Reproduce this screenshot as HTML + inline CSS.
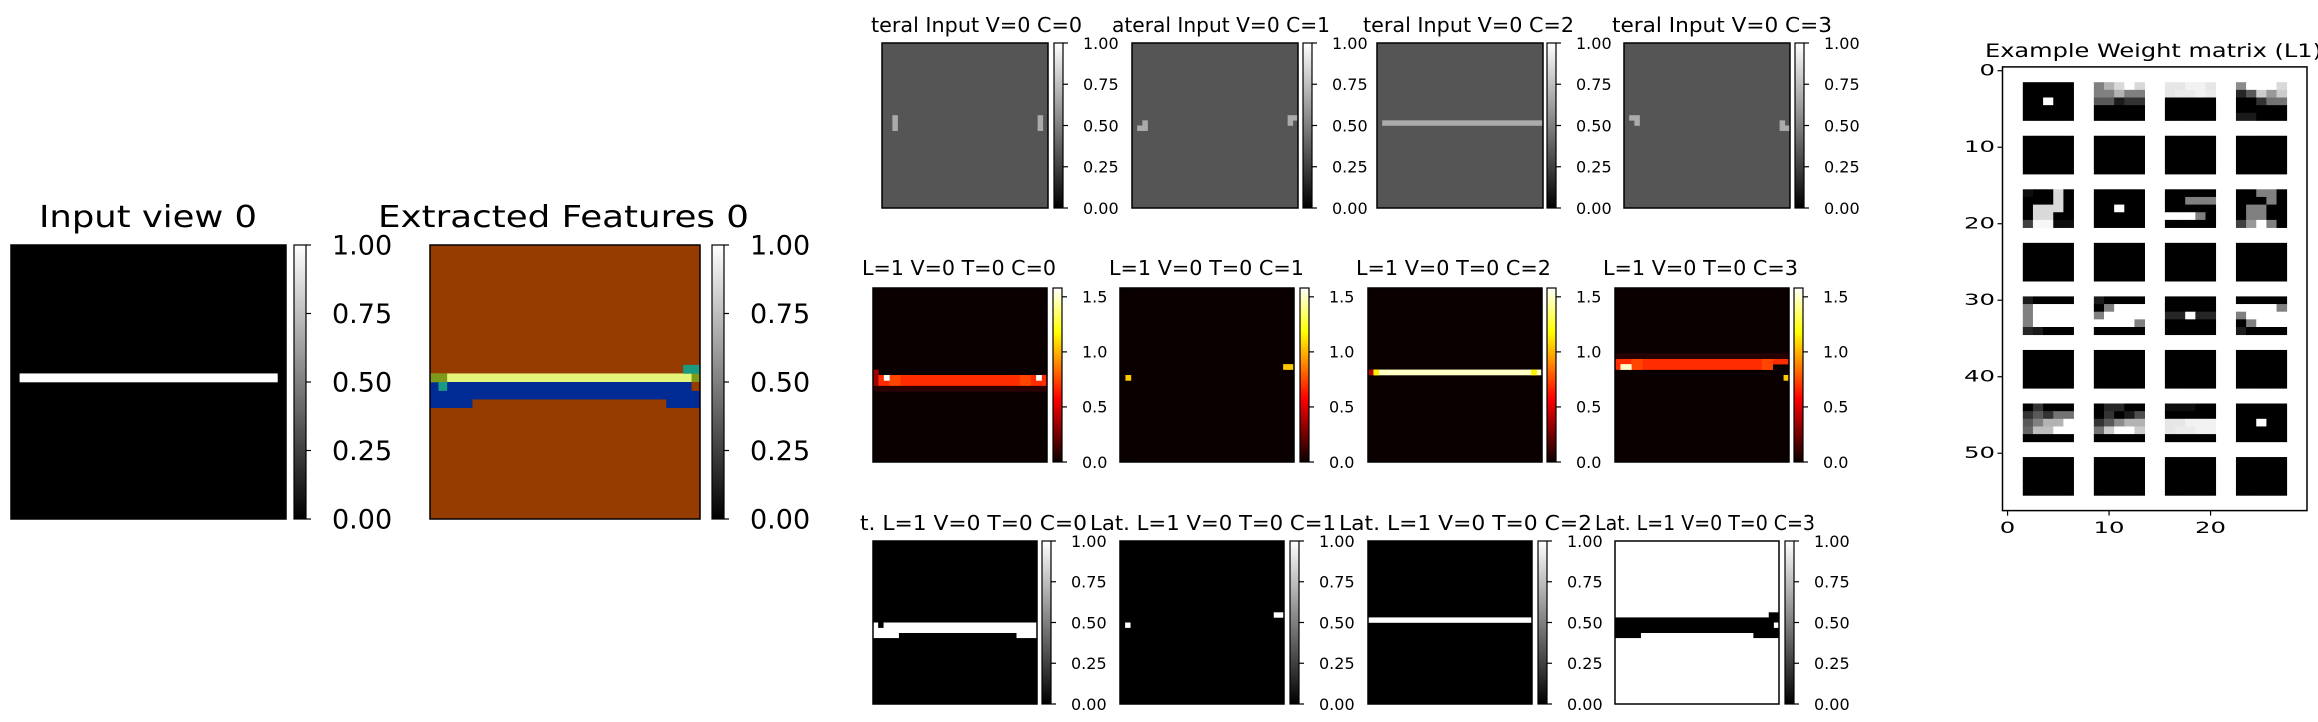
<!DOCTYPE html>
<html><head><meta charset="utf-8">
<style>
html,body{margin:0;padding:0;background:#fff;}
svg{display:block;}
text{font-family:"DejaVu Sans","Liberation Sans",sans-serif;fill:#000;}
</style></head>
<body>
<svg id="fig" width="2318" height="722" viewBox="0 0 2318 722" xmlns="http://www.w3.org/2000/svg">
<defs>
<linearGradient id="gGray" x1="0" y1="1" x2="0" y2="0"><stop offset="0" stop-color="#000"/><stop offset="1" stop-color="#fff"/></linearGradient>
<linearGradient id="gHot" x1="0" y1="1" x2="0" y2="0">
<stop offset="0" stop-color="#0a0000"/><stop offset="0.365" stop-color="#ff0000"/><stop offset="0.746" stop-color="#ffff00"/><stop offset="1" stop-color="#ffffff"/></linearGradient>
</defs>
</svg>
<script>
// ---------- data ----------
const grayTicks = [0, 0.25, 0.5, 0.75, 1.0];
const grayTickLabels = ["0.00","0.25","0.50","0.75","1.00"];
const hotTicks = [0, 0.5, 1.0, 1.5];
const hotTickLabels = ["0.0","0.5","1.0","1.5"];
const hotMax = 1.58;
// image rects: [col0,row0,col1,row1,value] on 32x32 grid (col1,row1 exclusive)
const inputView = [[1,15,31,16,1]];
const featureColors = ["#963c00","#002a94","#e4f57a","#7f9a1a","#1a9a80"];
const extractedFeatures = [[0,15,32,16,2],[0,16,32,18,1],[0,18,5,19,1],[28,18,32,19,1],[0,15,2,16,3],[31,15,32,16,3],[1,16,2,17,4],[30,14,32,15,4],[31,16,32,17,0]];
const lateralInputs = [
  [[2,14,3,17,0.67],[30,14,31,17,0.67]],
  [[1,16,3,17,0.67],[2,15,3,16,0.67],[30,14,32,15,0.67],[30,15,31,16,0.67]],
  [[1,15,32,16,0.67]],
  [[1,14,3,15,0.67],[2,15,3,16,0.67],[30,15,31,16,0.67],[30,16,32,17,0.67]]
];
const activations = [
  [[0,15,1,18,0.35],[1,16,32,18,0.68],[3,16,5,18,0.74],[27,16,29,18,0.74],[2,16,3,17,1.58],[30,16,31,17,1.58],[0,18,32,19,0.08]],
  [[1,16,2,17,1.05],[30,14,32,15,1.05]],
  [[1,15,32,16,1.49],[0,15,1,16,0.4],[1,15,2,16,1.15],[30,15,31,16,1.15]],
  [[0,13,32,14,0.68],[0,14,29,15,0.68],[3,13,5,15,0.74],[27,13,29,15,0.74],[1,14,3,15,1.5],[31,16,32,17,1.05],[0,12,32,13,0.06]]
];
const lateralOut = [
  {bg:0, rects:[[0,16,32,18,1],[0,18,5,19,1],[28,18,32,19,1],[1,16,2,17,0]]},
  {bg:0, rects:[[1,16,2,17,1],[30,14,32,15,1]]},
  {bg:0, rects:[[0,15,32,16,1]]},
  {bg:1, rects:[[0,15,32,18,0],[0,18,5,19,0],[27,18,32,19,0],[30,14,32,15,0],[31,16,32,17,1]]}
];
const topTitles = ["teral Input V=0 C=0","ateral Input V=0 C=1","teral Input V=0 C=2","teral Input V=0 C=3"];
const midTitles = ["L=1 V=0 T=0 C=0","L=1 V=0 T=0 C=1","L=1 V=0 T=0 C=2","L=1 V=0 T=0 C=3"];
const botTitles = ["t. L=1 V=0 T=0 C=0","Lat. L=1 V=0 T=0 C=1","Lat. L=1 V=0 T=0 C=2","Lat. L=1 V=0 T=0 C=3"];
// weight matrix blocks (8 block rows x 4 block cols), 5x5 gray values each
const Z = [[0,0,0,0,0],[0,0,0,0,0],[0,0,0,0,0],[0,0,0,0,0],[0,0,0,0,0]];
const C = [[0,0,0,0,0],[0,0,0,0,0],[0,0,1,0,0],[0,0,0,0,0],[0,0,0,0,0]];
const weightBlocks = [
 [C,
  [[0.5,0.7,0.85,1,0.85],[0.5,0.5,0.7,0.5,0.5],[0.35,0.35,0.1,0.2,0.2],[0,0,0,0,0],[0,0,0,0,0]],
  [[0.9,0.9,0.95,0.95,0.9],[0.9,0.92,0.92,0.95,0.92],[0,0,0,0,0],[0,0,0,0,0],[0,0,0,0,0]],
  [[0.55,1,1,1,0.85],[0.15,0.35,0.8,0.6,0.8],[0,0,0.2,0.45,0.45],[0,0,0,0,0],[0.1,0.1,0,0,0]]],
 [Z,Z,Z,Z],
 [[[0.05,0,0,0.85,0],[0,0,0,0.85,0],[0,0.85,0.85,0.85,0],[0,0.85,0.85,0,0],[0.25,0.97,0.97,0.05,0.05]],
  C,
  [[0,0,0,0,0],[0,0,0.5,0.5,0.5],[0,0,0,0,0],[1,1,1,0.5,0],[0,0,0,0,0]],
  [[0,0,0.5,0.5,0],[0,0,0,0.5,0],[0,0.5,0.5,0,0],[0,0.5,0.5,0,0],[0.25,0.6,1,0.5,0]]],
 [Z,Z,Z,Z],
 [[[0.1,0,0,0,0],[0.5,1,1,1,1],[0.5,1,1,1,1],[0.5,1,1,1,1],[0.15,0.1,0,0,0]],
  [[0.1,0,0,0,0],[0,0.5,1,1,1],[0.5,1,1,1,1],[1,1,1,1,0.5],[0,0,0,0,0]],
  [[0,0,0,0,0],[0,0,0,0,0],[0.15,0.15,1,0.15,0.15],[0,0,0,0,0],[0,0,0,0,0]],
  [[0,0,0,0,0],[1,1,1,1,0.5],[0.5,1,1,1,1],[0,0.5,1,1,1],[0.1,0,0,0,0]]],
 [Z,Z,Z,Z],
 [[[0,0.2,0,0,0],[0.2,0.35,0.2,0.45,0.45],[0.35,0.5,0.7,0.7,1],[0.4,0.75,0.75,1,1],[0,0,0,0,0]],
  [[0,0.15,0.15,0,0],[0,0.2,0,0.1,0.3],[0.2,0.35,0.55,0.7,0.7],[0.45,0.8,1,1,0.8],[0,0,0,0,0]],
  [[0.05,0.05,0.05,0,0],[0,0,0,0,0],[0.9,0.9,0.95,0.95,0.95],[0.9,0.92,0.92,0.95,0.95],[0,0,0,0,0]],
  C],
 [Z,Z,Z,Z]
];
const wXTicks = [0,10,20];
const wYTicks = [0,10,20,30,40,50];

// ---------- helpers ----------
const NS = "http://www.w3.org/2000/svg";
const svg = document.getElementById('fig');
function el(tag, attrs, parent){
  const e = document.createElementNS(NS, tag);
  for (const k in attrs) e.setAttribute(k, attrs[k]);
  (parent||svg).appendChild(e);
  return e;
}
function grayCol(v){ const c=Math.round(Math.max(0,Math.min(1,v))*255); return `rgb(${c},${c},${c})`; }
function hotCol(v){
  const t=Math.max(0,Math.min(1,v/hotMax));
  const r=Math.min(1,0.0416+t/0.365*0.9584), g=Math.max(0,Math.min(1,(t-0.365)/0.381)), b=Math.max(0,Math.min(1,(t-0.746)/0.254));
  return `rgb(${Math.round(r*255)},${Math.round(g*255)},${Math.round(b*255)})`;
}
function drawImage(name, x, y, w, h, bgColor, rects, colFn){
  const g = el('g', {});
  
  
  el('rect',{x:x,y:y,width:w,height:h,fill:bgColor},g);
  const sx=w/32, sy=h/32;
  rects.forEach(r=>{
    const rc = el('rect',{x:x+r[0]*sx,y:y+r[1]*sy,width:(r[2]-r[0])*sx+0.3,height:(r[3]-r[1])*sy+0.3,fill:colFn(r[4])},g);
    
    
  });
  el('rect',{x:x,y:y,width:w,height:h,fill:'none',stroke:'#000','stroke-width':1.5},g);
}
function drawColorbar(name, x, y, w, h, grad, ticks, labels, vmax, fs, gap){
  const g = el('g', {});
  
  
  el('rect',{x:x,y:y,width:w,height:h,fill:`url(#${grad})`,stroke:'#000','stroke-width':1.2},g);
  ticks.forEach((t,i)=>{
    const ty = y + h - t/vmax*h;
    el('line',{x1:x+w,x2:x+w+5,y1:ty,y2:ty,stroke:'#000','stroke-width':1.2},g);
    const tx = el('text',{x:x+w+gap,y:ty+fs*0.36,'font-size':fs},g);
    tx.textContent = labels[i];
    
    
  });
}
function title(name, str, x0, x1, y, fs){
  const t = el('text',{x:x0,y:y,'font-size':fs,textLength:x1-x0,lengthAdjust:'spacingAndGlyphs'});
  t.textContent = str;
  
  
}

// ---------- left panels ----------
title('input-view-title','Input view 0',39,257,227,30);
drawImage('input-view-image',11,245,275,274,'#000',inputView,grayCol);
drawColorbar('input-view-colorbar',294,245,12,274,'gGray',grayTicks,grayTickLabels,1,27,26);
title('extracted-features-title','Extracted Features 0',378,749,227,30);
drawImage('extracted-features-image',430,245,270,274,featureColors[0],extractedFeatures,v=>featureColors[v]);
drawColorbar('extracted-features-colorbar',712,245,12,274,'gGray',grayTicks,grayTickLabels,1,27,26);

// ---------- middle grid ----------
const topX=[882,1132,1377,1624], topCb=[1054,1303,1547,1795];
const topTitleX=[[871,1082],[1112,1330],[1363,1574],[1612,1832]];
const midX=[873,1120,1368,1615], midCb=[1053,1300,1547,1794];
const midTitleX=[[862,1056],[1109,1304],[1356,1551],[1603,1798]];
const botX=[873,1120,1368,1615], botCb=[1042,1290,1538,1785];
const botTitleX=[[860,1087],[1090,1336],[1339,1592],[1595,1815]];
for(let i=0;i<4;i++){
  title('lateral-input-title-'+i, topTitles[i], topTitleX[i][0], topTitleX[i][1], 32, 20);
  drawImage('lateral-input-image-'+i, topX[i],43,166,165,'#555555',lateralInputs[i],grayCol);
  drawColorbar('lateral-input-colorbar-'+i, topCb[i],43,9,165,'gGray',grayTicks,grayTickLabels,1,16,20);

  title('activation-title-'+i, midTitles[i], midTitleX[i][0], midTitleX[i][1], 275, 20);
  drawImage('activation-image-'+i, midX[i],288,174,174,'#0a0000',activations[i],hotCol);
  drawColorbar('activation-colorbar-'+i, midCb[i],288,9,174,'gHot',hotTicks,hotTickLabels,hotMax,16,20);

  title('lateral-output-title-'+i, botTitles[i], botTitleX[i][0], botTitleX[i][1], 530, 20);
  drawImage('lateral-output-image-'+i, botX[i],541,164,163,grayCol(lateralOut[i].bg),lateralOut[i].rects,grayCol);
  drawColorbar('lateral-output-colorbar-'+i, botCb[i],541,9,163,'gGray',grayTicks,grayTickLabels,1,16,20);
}

// ---------- weight matrix ----------
const wx0=2002.5, wy0=66.9, cw=10.15, rh=7.65, nCols=30, nRows=58;
const wg = el('g',{});


el('rect',{x:wx0,y:wy0,width:nCols*cw,height:nRows*rh,fill:'#fff'},wg);
weightBlocks.forEach((brow,bi)=>{
  brow.forEach((blk,bj)=>{
    blk.forEach((row,r)=>{
      row.forEach((v,c)=>{
        const rr = bi*7+2+r, cc = bj*7+2+c;
        const cell = el('rect',{x:wx0+cc*cw,y:wy0+rr*rh,width:cw+0.4,height:rh+0.4,fill:grayCol(v)},wg);
        
        
      });
    });
  });
});
el('rect',{x:wx0,y:wy0,width:nCols*cw,height:nRows*rh,fill:'none',stroke:'#000','stroke-width':1.5},wg);
wYTicks.forEach(t=>{
  const ty = wy0 + (t+0.5)*rh;
  el('line',{x1:wx0-5,x2:wx0,y1:ty,y2:ty,stroke:'#000','stroke-width':1.2},wg);
  const s=String(t);
  const tx = el('text',{x:1995,y:ty+5,'font-size':16,'text-anchor':'end',textLength:s.length*15.5,lengthAdjust:'spacingAndGlyphs'},wg);
  tx.textContent=s;
  
  
});
wXTicks.forEach(t=>{
  const tx0 = wx0 + (t+0.5)*cw, by = wy0+nRows*rh;
  el('line',{x1:tx0,x2:tx0,y1:by,y2:by+5,stroke:'#000','stroke-width':1.2},wg);
  const s=String(t);
  const tx = el('text',{x:tx0,y:533,'font-size':16,'text-anchor':'middle',textLength:s.length*15.5,lengthAdjust:'spacingAndGlyphs'},wg);
  tx.textContent=s;
  
  
});
title('weight-matrix-title','Example Weight matrix (L1)',1985,2322,57,19);
</script>
</body></html>
